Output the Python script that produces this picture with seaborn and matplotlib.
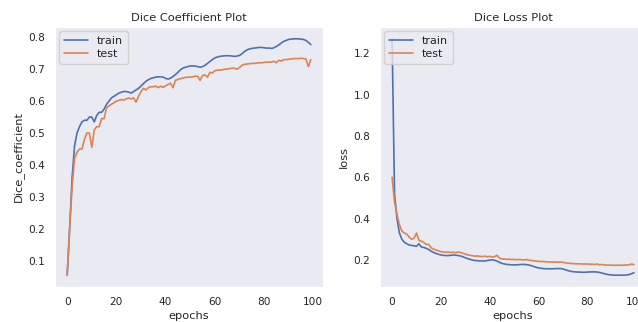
import numpy as np
import pandas as pd
import matplotlib
matplotlib.use("Agg")
import matplotlib.pyplot as plt
import seaborn as sns

epochs = list(range(100))

train_dice = [0.055, 0.20, 0.36, 0.46, 0.50, 0.52, 0.535, 0.54, 0.54, 0.55,
              0.55, 0.535, 0.555, 0.565, 0.565, 0.575, 0.59, 0.60, 0.61, 0.615,
              0.62, 0.625, 0.628, 0.63, 0.63, 0.628, 0.625, 0.63, 0.635, 0.64,
              0.647, 0.655, 0.662, 0.667, 0.671, 0.673, 0.675, 0.676, 0.676, 0.675,
              0.671, 0.669, 0.672, 0.677, 0.683, 0.69, 0.698, 0.703, 0.706, 0.708,
              0.71, 0.71, 0.71, 0.708, 0.706, 0.708, 0.712, 0.718, 0.724, 0.73,
              0.735, 0.738, 0.74, 0.741, 0.742, 0.742, 0.742, 0.741, 0.74, 0.741,
              0.743, 0.748, 0.755, 0.76, 0.763, 0.765, 0.766, 0.767, 0.768, 0.768,
              0.767, 0.766, 0.766, 0.765, 0.767, 0.771, 0.776, 0.782, 0.787, 0.79,
              0.793, 0.794, 0.795, 0.795, 0.795, 0.794, 0.793, 0.79, 0.784, 0.777]

test_dice = [0.055, 0.20, 0.33, 0.42, 0.44, 0.45, 0.45, 0.48, 0.50, 0.50,
             0.455, 0.51, 0.52, 0.52, 0.545, 0.545, 0.58, 0.585, 0.59, 0.595,
             0.60, 0.602, 0.605, 0.603, 0.607, 0.61, 0.607, 0.61, 0.597, 0.615,
             0.63, 0.64, 0.635, 0.642, 0.645, 0.645, 0.647, 0.642, 0.647, 0.643,
             0.648, 0.652, 0.656, 0.642, 0.665, 0.668, 0.67, 0.672, 0.674, 0.675,
             0.675, 0.676, 0.678, 0.678, 0.665, 0.68, 0.682, 0.675, 0.69, 0.688,
             0.695, 0.697, 0.697, 0.698, 0.70, 0.70, 0.702, 0.703, 0.703, 0.70,
             0.705, 0.712, 0.715, 0.716, 0.717, 0.718, 0.718, 0.719, 0.72, 0.72,
             0.721, 0.722, 0.722, 0.722, 0.725, 0.72, 0.728, 0.725, 0.73, 0.73,
             0.731, 0.732, 0.733, 0.733, 0.733, 0.734, 0.733, 0.732, 0.708, 0.73]

train_loss = [1.27, 0.52, 0.40, 0.33, 0.30, 0.285, 0.278, 0.272, 0.270, 0.268,
              0.266, 0.278, 0.262, 0.260, 0.256, 0.250, 0.242, 0.236, 0.231, 0.227,
              0.224, 0.222, 0.221, 0.221, 0.222, 0.224, 0.223, 0.221, 0.219, 0.215,
              0.210, 0.206, 0.202, 0.199, 0.197, 0.196, 0.195, 0.195, 0.195, 0.197,
              0.199, 0.200, 0.198, 0.194, 0.188, 0.183, 0.180, 0.178, 0.177, 0.176,
              0.176, 0.176, 0.177, 0.178, 0.178, 0.177, 0.175, 0.172, 0.168, 0.164,
              0.161, 0.159, 0.158, 0.157, 0.157, 0.157, 0.157, 0.158, 0.158, 0.158,
              0.156, 0.152, 0.148, 0.145, 0.143, 0.142, 0.141, 0.141, 0.140, 0.140,
              0.141, 0.142, 0.142, 0.142, 0.141, 0.139, 0.136, 0.133, 0.130, 0.128,
              0.127, 0.126, 0.126, 0.126, 0.126, 0.126, 0.127, 0.129, 0.133, 0.138]

test_loss = [0.60, 0.48, 0.42, 0.37, 0.34, 0.33, 0.325, 0.31, 0.30, 0.305,
             0.33, 0.295, 0.29, 0.285, 0.275, 0.275, 0.258, 0.252, 0.248, 0.244,
             0.240, 0.238, 0.237, 0.238, 0.236, 0.237, 0.235, 0.238, 0.236, 0.232,
             0.228, 0.224, 0.222, 0.220, 0.218, 0.219, 0.217, 0.216, 0.218, 0.215,
             0.217, 0.214, 0.216, 0.222, 0.208, 0.205, 0.204, 0.203, 0.203, 0.202,
             0.202, 0.201, 0.202, 0.201, 0.200, 0.202, 0.198, 0.198, 0.195, 0.194,
             0.193, 0.192, 0.192, 0.191, 0.190, 0.190, 0.190, 0.189, 0.189, 0.190,
             0.188, 0.186, 0.184, 0.183, 0.182, 0.181, 0.181, 0.181, 0.180, 0.180,
             0.180, 0.179, 0.179, 0.178, 0.180, 0.176, 0.178, 0.175, 0.175, 0.175,
             0.174, 0.174, 0.174, 0.174, 0.174, 0.175, 0.175, 0.176, 0.180, 0.177]

sns.set_style("dark")
plt.rcParams['font.family'] = ['DejaVu Sans']

fig = plt.figure(figsize=(6.38, 3.22), dpi=100)
W, H = 638, 322
ax1 = fig.add_axes([55 / W, 1 - 287 / H, (323 - 55) / W, 260 / H])
ax2 = fig.add_axes([380 / W, 1 - 287 / H, (646 - 380) / W, 260 / H])

tick_fs = 7.6
lab_fs = 8.2
for ax, tr, te, title, ylab in [
        (ax1, train_dice, test_dice, "Dice Coefficient Plot", "Dice_coefficient"),
        (ax2, train_loss, test_loss, "Dice Loss Plot", "loss")]:
    sns.lineplot(x=epochs, y=tr, ax=ax, label="train", color="#4C72B0", linewidth=1.2)
    sns.lineplot(x=epochs, y=te, ax=ax, label="test", color="#DD8452", linewidth=1.2)
    ax.set_title(title, fontsize=lab_fs, color="#262626", pad=4)
    ax.set_xlabel("epochs", fontsize=lab_fs, labelpad=3, color="#262626")
    ax.set_ylabel(ylab, fontsize=lab_fs, labelpad=3, color="#262626")
    ax.tick_params(labelsize=tick_fs, colors="#262626")
    ax.set_xticks([0, 20, 40, 60, 80, 100])
    ax.legend(loc="upper left", fontsize=8, borderaxespad=0.4,
              handlelength=2.2, labelspacing=0.3)

ax1.set_yticks([0.1, 0.2, 0.3, 0.4, 0.5, 0.6, 0.7, 0.8])
ax2.set_yticks([0.2, 0.4, 0.6, 0.8, 1.0, 1.2])

fig.savefig("out.png", dpi=100)
